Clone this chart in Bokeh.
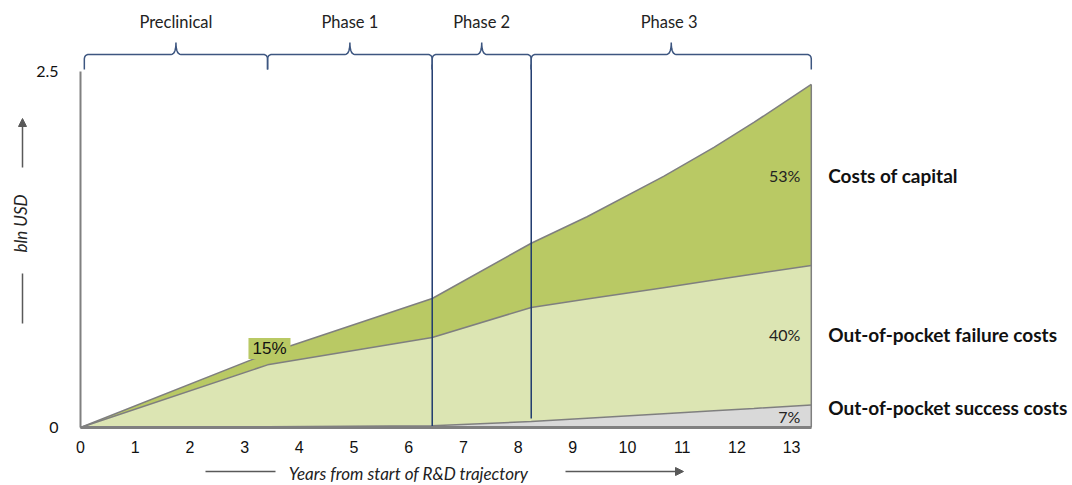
import numpy as np
from bokeh.plotting import figure
from bokeh.models import ColumnDataSource, Range1d, FixedTicker, Label, Arrow, NormalHead, LinearAxis
from bokeh.embed import file_html
from bokeh.resources import INLINE
from bokeh.core.properties import value

# ---- data ----
years = [0, 3.42, 6.43, 8.24, 9.26, 10.66, 11.58, 12.31, 13.36]
success = [0, 0.005, 0.013, 0.042, 0.065, 0.097, 0.118, 0.134, 0.158]
failure = [0, 0.435, 0.619, 0.801, 0.837, 0.885, 0.917, 0.944, 0.980]
capital = [0, 0.080, 0.274, 0.451, 0.578, 0.781, 0.932, 1.064, 1.271]

series_names = ["Out-of-pocket success costs", "Out-of-pocket failure costs", "Costs of capital"]
series_share = ["7%", "40%", "53%"]
early_capital_share = "15%"

phase_names = ["Preclinical", "Phase 1", "Phase 2", "Phase  3"]
phase_start = [0.07, 3.42, 6.43, 8.24]
phase_end = [3.42, 6.43, 8.24, 13.36]

x_ticks = list(range(14))
y_ticks = [0, 2.5]
y_tick_labels = {0: "0", 2.5: "2.5"}

# ---- styling ----
W, H = 1072, 485
X0, Y0 = 80, 427      # canvas pixel of the data origin
PX_X = 54.7           # px per year
PX_Y = 142.4          # px per bln USD
C_SUCCESS = "#d9d9d9"
C_FAILURE = "#dce5b3"
C_CAPITAL = "#b9c964"
C_EDGE = "#7f7f7f"
C_NAVY = "#1f3a6e"
C_BRACE = "#3d5680"
GREY = "#595959"
FONT = "Lato"

p = figure(width=W, height=H,
           x_range=Range1d(-X0 / PX_X, (W - X0) / PX_X),
           y_range=Range1d(-(H - Y0) / PX_Y, Y0 / PX_Y),
           x_axis_type=None, y_axis_type=None,
           output_backend="svg", toolbar_location=None,
           min_border=0)
p.outline_line_color = None
p.background_fill_color = "white"

# stacked areas
src = ColumnDataSource(dict(years=years, success=success, failure=failure, capital=capital))
stackers = ["success", "failure", "capital"]
p.varea_stack(stackers, x="years", color=[C_SUCCESS, C_FAILURE, C_CAPITAL], source=src)
p.vline_stack(stackers, x="years", color=C_EDGE, line_width=1.5, source=src)
total_end = success[-1] + failure[-1] + capital[-1]
p.segment(x0=[years[-1]], y0=[0], x1=[years[-1]], y1=[total_end], color=C_EDGE, line_width=1.5)

# axes placed at the data origin
xa = LinearAxis(fixed_location=0, ticker=FixedTicker(ticks=x_ticks), bounds=(0, years[-1]))
xa.axis_line_color = "#808080"
xa.axis_line_width = 3
xa.major_tick_line_color = None
xa.minor_tick_line_color = None
xa.major_label_text_font = "Liberation Sans"
xa.major_label_text_font_size = "16px"
xa.major_label_text_color = "#111111"
xa.major_label_standoff = 7
p.add_layout(xa, "below")

ya = LinearAxis(fixed_location=0, ticker=FixedTicker(ticks=y_ticks), bounds=(0, 2.5))
ya.major_label_overrides = y_tick_labels
ya.axis_line_color = "#808080"
ya.axis_line_width = 2
ya.major_tick_line_color = None
ya.minor_tick_line_color = None
ya.major_label_text_font = FONT
ya.major_label_text_font_size = "16px"
ya.major_label_text_color = "#111111"
ya.major_label_standoff = 16
p.add_layout(ya, "left")

# phase boundary lines
p.segment(x0=[phase_start[2], phase_start[3]], y0=[0, 0.063],
          x1=[phase_start[2], phase_start[3]], y1=[2.55, 2.55], color=C_NAVY, line_width=1.5)

# braces
dx, dy = 1 / PX_X, 1 / PX_Y
def qbez(p0, p1, p2, n=8):
    t = np.linspace(0, 1, n)
    xs = (1 - t) ** 2 * p0[0] + 2 * (1 - t) * t * p1[0] + t ** 2 * p2[0]
    ys = (1 - t) ** 2 * p0[1] + 2 * (1 - t) * t * p1[1] + t ** 2 * p2[1]
    return list(xs), list(ys)

def brace(x0, x1, base=2.62):
    xm = (x0 + x1) / 2
    X, Y = [x0], [base - 15 * dy]
    for seg in [((x0, base - 5 * dy), (x0, base), (x0 + 5 * dx, base)),
                ((xm - 5 * dx, base), (xm, base), (xm, base + 12 * dy)),
                ((xm, base + 12 * dy), (xm, base), (xm + 5 * dx, base)),
                ((x1 - 5 * dx, base), (x1, base), (x1, base - 5 * dy))]:
        a, b = qbez(*seg)
        X += a; Y += b
    X.append(x1); Y.append(base - 15 * dy)
    return X, Y

bx, by = [], []
for s, e in zip(phase_start, phase_end):
    X, Y = brace(s, e)
    bx.append(X); by.append(Y)
p.multi_line(bx, by, line_color=C_BRACE, line_width=1.5)

mids = [(s + e) / 2 for s, e in zip(phase_start, phase_end)]
p.text(x=mids, y=[2.85] * 4, text=phase_names, text_font=value(FONT), text_font_size="16.5px",
       text_align="center", text_baseline="middle", text_color="#222222")

# series labels on the right
lab_y = [0.14, 0.653, 1.77]
p.text(x=[13.67] * 3, y=lab_y, text=series_names, text_font=value(FONT), text_font_size="19px",
       text_font_style="bold", text_align="left", text_baseline="middle", text_color="#111111")
pct_y = [0.077, 0.653, 1.77]
p.text(x=[13.16] * 3, y=pct_y, text=series_share, text_font=value(FONT), text_font_size="16px",
       text_align="right", text_baseline="middle", text_color="#222222")

p.add_layout(Label(x=3.455, y=0.555, text=early_capital_share, text_font="Liberation Sans",
                   text_font_size="17px", text_align="center", text_baseline="middle",
                   text_color="#111111", background_fill_color=C_CAPITAL, padding=(4, 1)))

# axis titles with arrows (screen units, origin at the canvas bottom-left)
p.add_layout(Label(x=20, y=H - 223, x_units="screen", y_units="screen", text="bln USD", angle=np.pi / 2,
                   text_font=FONT, text_font_style="italic", text_font_size="17px",
                   text_align="center", text_baseline="middle", text_color="#222222"))
p.add_layout(Arrow(x_start=22, y_start=H - 167, x_end=22, y_end=H - 118, start_units="screen", end_units="screen",
                   end=NormalHead(size=8, fill_color=GREY, line_color=GREY), line_color=GREY, line_width=1.5))
p.add_layout(Arrow(x_start=22, y_start=H - 273, x_end=22, y_end=H - 323, start_units="screen", end_units="screen",
                   end=None, line_color=GREY, line_width=1.5))

p.add_layout(Label(x=408, y=H - 473, x_units="screen", y_units="screen", text="Years from start of R&D trajectory",
                   text_font=FONT, text_font_style="italic", text_font_size="17px",
                   text_align="center", text_baseline="middle", text_color="#222222"))
p.add_layout(Arrow(x_start=205, y_start=H - 471, x_end=275, y_end=H - 471, start_units="screen", end_units="screen",
                   end=None, line_color=GREY, line_width=1.5))
p.add_layout(Arrow(x_start=565, y_start=H - 471, x_end=683, y_end=H - 471, start_units="screen", end_units="screen",
                   end=NormalHead(size=8, fill_color=GREY, line_color=GREY), line_color=GREY, line_width=1.5))

open("out.html", "w").write(file_html(p, INLINE))
